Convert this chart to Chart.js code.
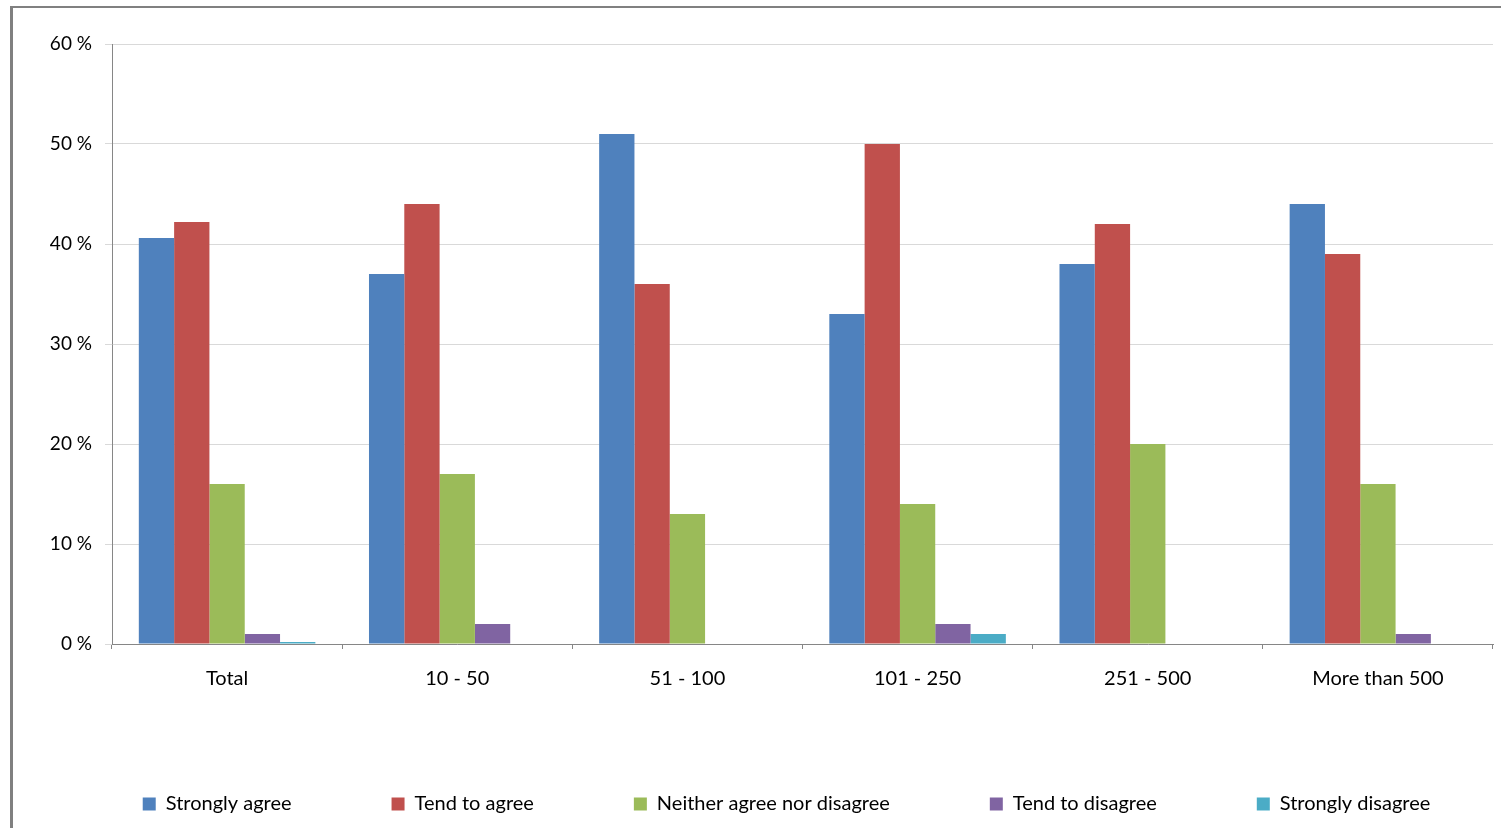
<!DOCTYPE html>
<html><head><meta charset="utf-8">
<script src="https://cdn.jsdelivr.net/npm/chart.js@4"></script>
<style>
html,body{margin:0;padding:0;background:#fff;overflow:hidden}
#frame{position:absolute;left:10px;top:6px;width:1600px;height:900px;border-left:3px solid #808080;border-top:2px solid #808080;}
#c{position:absolute;left:0;top:0}
</style></head><body>
<div id="frame"></div>
<canvas id="c" width="1501" height="828"></canvas>
<script>
const categories = ['Total', '10 - 50', '51 - 100', '101 - 250', '251 - 500', 'More than 500'];
const seriesNames = ['Strongly agree', 'Tend to agree', 'Neither agree nor disagree', 'Tend to disagree', 'Strongly disagree'];
const stronglyAgree = [40.6, 37, 51, 33, 38, 44];
const tendToAgree = [42.2, 44, 36, 50, 42, 39];
const neither = [16, 17, 13, 14, 20, 16];
const tendToDisagree = [1, 2, 0, 2, 0, 1];
const stronglyDisagree = [0.2, 0, 0, 1, 0, 0];
const yTicks = [0, 10, 20, 30, 40, 50, 60];

const colors = ['#4F81BD', '#C0504D', '#9BBB59', '#8064A2', '#4BACC6'];
const values = [stronglyAgree, tendToAgree, neither, tendToDisagree, stronglyDisagree];

Chart.defaults.font.family = 'Lato, "Open Sans", sans-serif';
Chart.defaults.font.size = 20;
Chart.defaults.color = '#000';

const legendPatch = {
  id: 'legendPatch',
  beforeLayout(chart) {
    const lg = chart.legend;
    if (lg && !lg._patched) {
      const f = lg.fit.bind(lg);
      lg.fit = function () { f(); this.height = 134; };
      lg._patched = true;
    }
  },
  afterLayout(chart) {
    const lg = chart.legend;
    if (lg) { lg.left += 40; lg.right += 40; }
  }
};

new Chart(document.getElementById('c'), {
  type: 'bar',
  data: {
    labels: categories,
    datasets: seriesNames.map((n, i) => ({
      label: n,
      data: values[i],
      backgroundColor: colors[i],
      borderWidth: 0,
      categoryPercentage: 0.767,
      barPercentage: 1
    }))
  },
  options: {
    responsive: false,
    animation: false,
    layout: { padding: { top: 44, right: 8, bottom: 0, left: 0 } },
    plugins: {
      tooltip: { enabled: false },
      legend: {
        position: 'bottom',
        labels: { boxWidth: 13, boxHeight: 13, padding: 100, color: '#000', font: { size: 20 } }
      }
    },
    scales: {
      x: {
        grid: { display: true, drawOnChartArea: false, drawTicks: true, tickLength: 5, color: '#868686', offset: true },
        border: { display: true, color: '#868686', width: 1 },
        ticks: { padding: 18, color: '#000', font: { size: 20 }, maxRotation: 0 },
        afterFit(s) { s.height = 50; }
      },
      y: {
        min: 0, max: 60,
        afterBuildTicks(s) { s.ticks = yTicks.map(v => ({ value: v })); },
        grid: { color: '#d9d9d9', tickLength: 7 },
        border: { display: true, color: '#868686', width: 1 },
        ticks: { padding: 13, color: '#000', font: { size: 19 }, callback: v => v + ' %' },
        afterFit(s) { s.width = 112; }
      }
    }
  },
  plugins: [legendPatch]
});
</script>
</body></html>
